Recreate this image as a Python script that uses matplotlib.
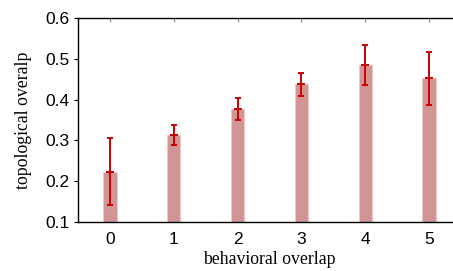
import matplotlib
matplotlib.use("Agg")
import matplotlib.pyplot as plt
import numpy as np

categories = [0, 1, 2, 3, 4, 5]
means = [0.2225, 0.3125, 0.377, 0.438, 0.484, 0.453]
lower = [0.142, 0.288, 0.351, 0.410, 0.435, 0.3875]
upper = [0.305, 0.337, 0.403, 0.466, 0.535, 0.517]
yticks = [0.1, 0.2, 0.3, 0.4, 0.5, 0.6]

fig = plt.figure(figsize=(4.53, 2.71), dpi=100)
ax = fig.add_axes([78/453, 49/271, (461-78)/453, (222-18)/271])

x = np.array(categories)
m = np.array(means)
err = np.vstack([m - np.array(lower), np.array(upper) - m])

ax.bar(x, m - 0.1, bottom=0.1, width=0.21, color='#d29494', edgecolor='#ecc8c8', linewidth=0.8, zorder=2)
ax.errorbar(x, m, yerr=err, fmt='none', ecolor='#cc0000', elinewidth=1.4, capsize=2.5, capthick=1.4, zorder=3)
ax.plot(x, m, linestyle='none', marker='_', markersize=6, markeredgewidth=1.4, color='#cc0000', zorder=4)

ax.set_xlim(-0.5, 5.5)
ax.set_ylim(0.1, 0.6)
ax.set_yticks(yticks)
ax.set_yticklabels([f"{v:.1f}" for v in yticks])
ax.set_xticks(x)
ax.set_xticklabels([str(c) for c in categories])

ax.spines['right'].set_visible(False)
for s in ['left', 'bottom', 'top']:
    ax.spines[s].set_linewidth(1.0)

sans = ['Liberation Sans', 'DejaVu Sans']
serif = ['Liberation Serif', 'DejaVu Serif']
ax.tick_params(axis='y', direction='out', length=3, width=0.8, labelsize=12.5, right=False, pad=3)
ax.tick_params(axis='x', direction='in', length=3, width=0.8, color='#888888', labelsize=12.5,
               top=True, bottom=False, pad=7)
for lab in ax.get_xticklabels() + ax.get_yticklabels():
    lab.set_fontfamily(sans)

ax.set_xlabel('behavioral overlap', fontsize=12.8, family=serif, labelpad=3)
ax.set_ylabel('topological overalp', fontsize=12.8, family=serif, labelpad=10)

fig.savefig('out.png', dpi=100)
